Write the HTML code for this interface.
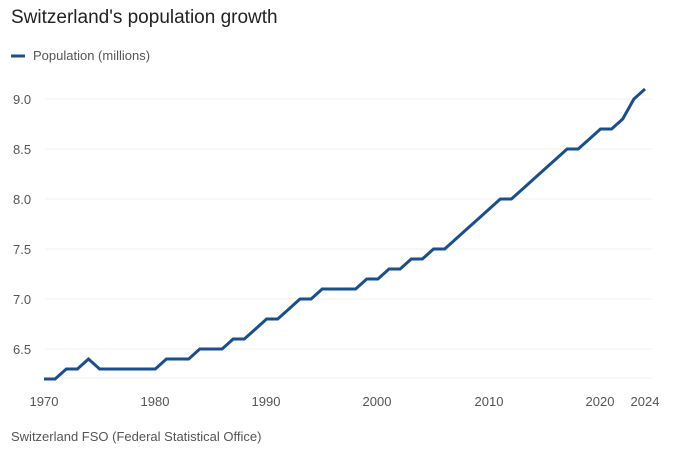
<!DOCTYPE html>
<html><head><style>
body{margin:0;background:#fff;width:700px;height:456px;overflow:hidden;font-family:"Liberation Sans",sans-serif;}
</style></head><body>
<svg width="700" height="456" xmlns="http://www.w3.org/2000/svg" font-family="Liberation Sans, sans-serif">
<text x="11" y="23" font-size="19" fill="#222">Switzerland's population growth</text>
<line x1="11" y1="56" x2="25" y2="56" stroke="#1a4f8b" stroke-width="3"/>
<text x="33" y="60" font-size="13" fill="#555">Population (millions)</text>
<g stroke="#f1efe6" stroke-width="1">
<line x1="45" y1="99" x2="652" y2="99"/><line x1="45" y1="149" x2="652" y2="149"/>
<line x1="45" y1="199" x2="652" y2="199"/><line x1="45" y1="249" x2="652" y2="249"/>
<line x1="45" y1="299" x2="652" y2="299"/><line x1="45" y1="349" x2="652" y2="349"/>
<line x1="45" y1="378" x2="652" y2="378"/>
</g>
<g font-size="13" fill="#555">
<text x="13" y="104">9.0</text><text x="13" y="154">8.5</text><text x="13" y="204">8.0</text>
<text x="13" y="254">7.5</text><text x="13" y="304">7.0</text><text x="13" y="354">6.5</text>
</g>
<g font-size="13" fill="#555" text-anchor="middle">
<text x="44" y="406">1970</text><text x="155" y="406">1980</text><text x="266" y="406">1990</text>
<text x="377" y="406">2000</text><text x="489" y="406">2010</text><text x="600" y="406">2020</text><text x="645" y="406">2024</text>
</g>
<text x="11" y="441" font-size="13" fill="#555">Switzerland FSO (Federal Statistical Office)</text>
<path id="p" fill="none" stroke="#1a4f8b" stroke-width="3" stroke-linejoin="miter"/>
</svg>
<script>
var v=[6.2,6.2,6.3,6.3,6.4,6.3,6.3,6.3,6.3,6.3,6.3,6.4,6.4,6.4,6.5,6.5,6.5,6.6,6.6,6.7,6.8,6.8,6.9,7.0,7.0,7.1,7.1,7.1,7.1,7.2,7.2,7.3,7.3,7.4,7.4,7.5,7.5,7.6,7.7,7.8,7.9,8.0,8.0,8.1,8.2,8.3,8.4,8.5,8.5,8.6,8.7,8.7,8.8,9.0,9.1];
var d="";for(var i=0;i<v.length;i++){var x=44+i*601/54,y=99+(9.0-v[i])*100;d+=(i?"L":"M")+x.toFixed(1)+" "+y.toFixed(1);}
document.getElementById("p").setAttribute("d",d);
</script>
</body></html>
